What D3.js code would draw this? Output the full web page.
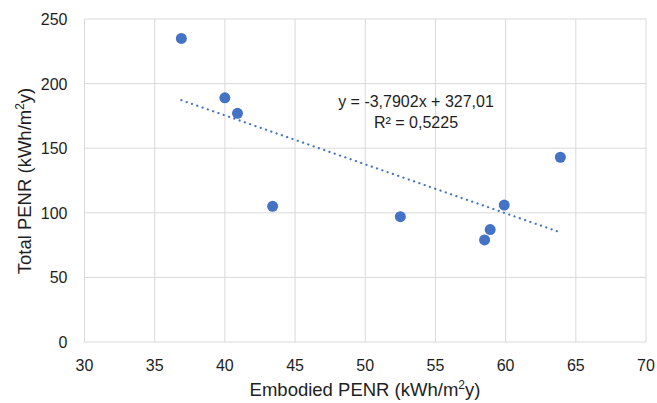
<!DOCTYPE html>
<html>
<head>
<meta charset="utf-8">
<script src="https://cdn.jsdelivr.net/npm/d3@7"></script>
<style>
  body { margin: 0; background: #fff; }
  svg { font-family: "Liberation Sans", Arial, sans-serif; }
</style>
</head>
<body>
<svg id="chart" width="657" height="403"></svg>
<script>
// data
const embodied = [36.9, 40.0, 40.9, 43.4, 52.5, 58.5, 58.9, 59.9, 63.9];
const totalPenr = [235, 189, 177, 105, 97, 79, 87, 106, 143];
const xTicks = [30, 35, 40, 45, 50, 55, 60, 65, 70];
const yTicks = [0, 50, 100, 150, 200, 250];
const slope = -3.7902;
const intercept = 327.01;
const eqLabel = "y = -3,7902x + 327,01";
const r2Label = "R² = 0,5225";

const svg = d3.select("#chart");
const margin = {left: 84.5, right: 11, top: 19, bottom: 61};
const W = 657, H = 403;
const ink = "#1e1e1e";

const x = d3.scaleLinear().domain([30, 70]).range([margin.left, W - margin.right]);
const y = d3.scaleLinear().domain([0, 250]).range([H - margin.bottom, margin.top]);

// grid
svg.append("g")
  .selectAll("line")
  .data(xTicks)
  .join("line")
    .attr("x1", d => x(d)).attr("x2", d => x(d))
    .attr("y1", y(0)).attr("y2", y(250))
    .attr("stroke", "#d9d9d9").attr("stroke-width", 1);

svg.append("g")
  .selectAll("line")
  .data(yTicks)
  .join("line")
    .attr("x1", x(30)).attr("x2", x(70))
    .attr("y1", d => y(d)).attr("y2", d => y(d))
    .attr("stroke", "#d9d9d9").attr("stroke-width", 1);

// tick labels
svg.append("g")
  .selectAll("text")
  .data(xTicks)
  .join("text")
    .attr("x", d => x(d))
    .attr("y", y(0) + 29)
    .attr("text-anchor", "middle")
    .attr("font-size", 16)
    .attr("fill", ink)
    .text(d => d);

svg.append("g")
  .selectAll("text")
  .data(yTicks)
  .join("text")
    .attr("x", x(30) - 17)
    .attr("y", d => y(d) + 6)
    .attr("text-anchor", "end")
    .attr("font-size", 16)
    .attr("fill", ink)
    .text(d => d);

// axis titles
const xt = svg.append("text")
  .attr("x", 365).attr("y", 396)
  .attr("text-anchor", "middle")
  .attr("font-size", 18.5)
  .attr("fill", ink);
xt.append("tspan").text("Embodied PENR (kWh/m");
xt.append("tspan").attr("font-size", 12).attr("dy", -7).text("2");
xt.append("tspan").attr("dy", 7).text("y)");

const yt = svg.append("text")
  .attr("transform", "translate(31,181) rotate(-90)")
  .attr("text-anchor", "middle")
  .attr("font-size", 18.5)
  .attr("fill", ink);
yt.append("tspan").text("Total PENR (kWh/m");
yt.append("tspan").attr("font-size", 12).attr("dy", -7).text("2");
yt.append("tspan").attr("dy", 7).text("y)");

// trend line
const xMin = d3.min(embodied), xMax = d3.max(embodied);
svg.append("line")
  .attr("x1", x(xMin)).attr("y1", y(slope * xMin + intercept))
  .attr("x2", x(xMax)).attr("y2", y(slope * xMax + intercept))
  .attr("stroke", "#4472c4")
  .attr("stroke-width", 2.2)
  .attr("stroke-dasharray", "0.1,5.5")
  .attr("stroke-linecap", "round");

// points
svg.append("g")
  .selectAll("circle")
  .data(embodied)
  .join("circle")
    .attr("cx", d => x(d))
    .attr("cy", (d, i) => y(totalPenr[i]))
    .attr("r", 5.5)
    .attr("fill", "#4472c4");

// equation
svg.append("text")
  .attr("x", 416).attr("y", 107)
  .attr("text-anchor", "middle")
  .attr("font-size", 16)
  .attr("fill", ink)
  .text(eqLabel);
svg.append("text")
  .attr("x", 416).attr("y", 128)
  .attr("text-anchor", "middle")
  .attr("font-size", 16)
  .attr("fill", ink)
  .text(r2Label);
</script>
</body>
</html>
